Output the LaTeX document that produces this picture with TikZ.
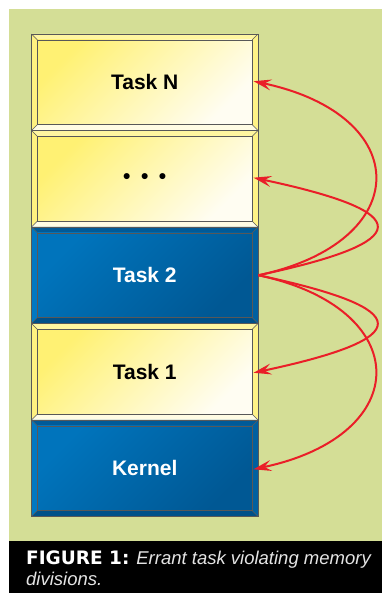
\documentclass[tikz,border=0pt]{standalone}
\usepackage{fontspec}
\setmainfont{Liberation Sans}
\newfontfamily\heavyfont{DejaVu Sans}
\usetikzlibrary{arrows.meta,calc}

\definecolor{paper}{RGB}{212,222,150}
\definecolor{arrowred}{RGB}{234,30,40}
\definecolor{edgegrey}{RGB}{88,88,88}
\definecolor{captiongrey}{RGB}{228,228,228}
% yellow task boxes
\definecolor{ylA}{RGB}{255,241,115}
\definecolor{ylB}{RGB}{255,253,242}
\definecolor{ybTop}{RGB}{255,246,160}
\definecolor{ybLeft}{RGB}{255,241,128}
\definecolor{ybRight}{RGB}{255,243,135}
\definecolor{ybBot}{RGB}{255,252,228}
% blue boxes
\definecolor{blA}{RGB}{0,116,188}
\definecolor{blB}{RGB}{0,88,148}
\definecolor{bbTop}{RGB}{0,90,152}
\definecolor{bbLeft}{RGB}{0,120,194}
\definecolor{bbRight}{RGB}{0,96,160}
\definecolor{bbBot}{RGB}{0,80,136}

\newcommand\bevelpic[6]{%
  \coordinate (bnw) at (path picture bounding box.north west);
  \coordinate (bne) at (path picture bounding box.north east);
  \coordinate (bsw) at (path picture bounding box.south west);
  \coordinate (bse) at (path picture bounding box.south east);
  \coordinate (inw) at ($(bnw)+(6pt,-6pt)$);
  \coordinate (ine) at ($(bne)+(-6pt,-6pt)$);
  \coordinate (isw) at ($(bsw)+(6pt,6pt)$);
  \coordinate (ise) at ($(bse)+(-6pt,6pt)$);
  \fill[#1] (bnw) -- (bne) -- (ine) -- (inw) -- cycle;
  \fill[#2] (bnw) -- (inw) -- (isw) -- (bsw) -- cycle;
  \fill[#3] (bne) -- (ine) -- (ise) -- (bse) -- cycle;
  \fill[#4] (bsw) -- (isw) -- (ise) -- (bse) -- cycle;
  \shade[top color=#5, bottom color=#6, shading angle=45] (inw) rectangle (ise);
  \draw[edgegrey, line width=0.8pt] (inw) rectangle (ise);
  \draw[edgegrey, line width=0.6pt] (bnw) -- (inw) (bne) -- (ine) (bsw) -- (isw) (bse) -- (ise);
}

\tikzset{
  membox/.style={minimum width=226.5pt, minimum height=96.5pt, inner sep=0pt,
    draw=edgegrey, line width=0.8pt, font=\fontsize{21}{24}\selectfont\bfseries},
  yellowbox/.style={membox, text=black,
    path picture={\bevelpic{ybTop}{ybLeft}{ybRight}{ybBot}{ylA}{ylB}}},
  bluebox/.style={membox, text=white,
    path picture={\bevelpic{bbTop}{bbLeft}{bbRight}{bbBot}{blA}{blB}}},
  violation/.style={draw=arrowred, line width=2pt,
    -{Stealth[length=18pt,width=11pt,inset=7pt]}, shorten >=-5pt}
}

\begin{document}
\begin{tikzpicture}[x=1pt,y=1pt]
\useasboundingbox (0,0) rectangle (382,593);
\fill[white] (0,0) rectangle (382,593);
\fill[paper] (9,52) rectangle (382,584);
\fill[black] (9,0) rectangle (382,52);

% memory map, top to bottom
\node[yellowbox] (taskn) at (144.75,510.75) {Task N};
\node[yellowbox] (dots) at (144.75,414.25) {•\hspace{10.5pt}•\hspace{10.5pt}•};
\node[bluebox] (tasktwo) at (144.75,317.75) {Task 2};
\node[yellowbox] (taskone) at (144.75,221.25) {Task 1};
\node[bluebox] (kernel) at (144.75,124.75) {Kernel};

% errant task writes everywhere
\draw[violation] (tasktwo.east) .. controls +(12:160) and +(-12:160) .. (taskn.east);
\draw[violation] (tasktwo.east) .. controls +(12:162) and +(-12:162) .. (dots.east);
\draw[violation] (tasktwo.east) .. controls +(-12:162) and +(12:162) .. (taskone.east);
\draw[violation] (tasktwo.east) .. controls +(-12:160) and +(12:160) .. (kernel.east);

\node[anchor=base west, align=left, inner sep=0pt,
  font=\fontsize{18.5}{21.5}\selectfont] (caption) at (26,7)
  {{\heavyfont\bfseries\color{white}FIGURE 1:} {\itshape\color{captiongrey}Errant task violating memory}\\
   {\itshape\color{captiongrey}divisions.}};
\end{tikzpicture}
\end{document}
